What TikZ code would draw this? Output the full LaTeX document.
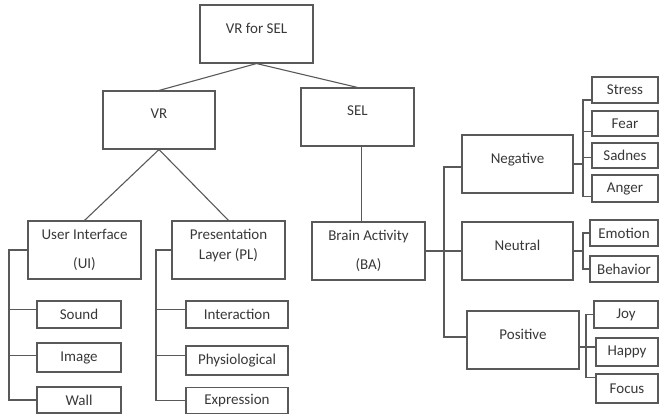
\documentclass[tikz,border=0pt]{standalone}
\usepackage{fontspec}
\setmainfont{Carlito}
\usepackage{tikz}
\usetikzlibrary{calc}

\begin{document}
\begin{tikzpicture}[x=1pt,y=-1pt,font=\fontsize{15}{18}\selectfont,
  every node/.style={align=center,text=black!78},
  box/.style={draw=black!65,line width=1.1pt,inner sep=0pt},
  bigbox/.style={box,minimum width=113,minimum height=58,text depth=12pt},
  twobox/.style={box,minimum width=113,minimum height=58},
  leaf/.style={box,minimum height=27},
  link/.style={draw=black!65,line width=1.1pt}]
  \useasboundingbox (0,0) rectangle (659,414);
  \node[bigbox] (top) at (256.5,34) {VR for SEL};
  \node[bigbox,minimum width=112] (vr) at (159,120) {VR};
  \node[bigbox] (sel) at (357.5,117) {SEL};
  \node[twobox] (ui) at (84.5,250) {User Interface\\[11pt](UI)};
  \node[twobox,text depth=12pt] (pl) at (228.5,250) {Presentation\\[2pt]Layer (PL)};
  \node[twobox] (ba) at (368.5,251) {Brain Activity\\[11pt](BA)};
  \node[bigbox,minimum width=111] (neg) at (517.5,164) {Negative};
  \node[bigbox,minimum width=111] (neu) at (517.5,251) {Neutral};
  \node[bigbox,minimum width=112] (pos) at (523,340) {Positive};
  \node[leaf,minimum width=84] (sound) at (79,314.5) {Sound};
  \node[leaf,minimum width=84,minimum height=29] (image) at (79,357.5) {Image};
  \node[leaf,minimum width=84,minimum height=26] (wall) at (79,400) {Wall};
  \node[leaf,minimum width=102] (interaction) at (237,314.5) {Interaction};
  \node[leaf,minimum width=102,minimum height=29] (physio) at (237,360.5) {Physiological};
  \node[leaf,minimum width=102,minimum height=26] (expression) at (237,400.5) {Expression};
  \node[leaf,minimum width=66,minimum height=26] (stress) at (625,90) {Stress};
  \node[leaf,minimum width=66,minimum height=25] (fear) at (625,123.5) {Fear};
  \node[leaf,minimum width=66,minimum height=25] (sadnes) at (625,155.5) {Sadnes};
  \node[leaf,minimum width=66] (anger) at (625,188.5) {Anger};
  \node[leaf,minimum width=68,minimum height=26] (emotion) at (624,233) {Emotion};
  \node[leaf,minimum width=68,minimum height=26] (behavior) at (624,269) {Behavior};
  \node[leaf,minimum width=64] (joy) at (626,314.5) {Joy};
  \node[leaf,minimum width=62,minimum height=28] (happy) at (627,352) {Happy};
  \node[leaf,minimum width=62,minimum height=29] (focus) at (627,388.5) {Focus};
  \coordinate (uirail) at (9,0);
  \coordinate (plrail) at (156,0);
  \coordinate (barail) at (444,0);
  \coordinate (negbr) at (583,0);
  \coordinate (neubr) at (583,0);
  \coordinate (posbr) at (586,0);
  \draw[link] (top.south) -- (vr.north);
  \draw[link] (top.south) -- (sel.north);
  \draw[link] (vr.south) -- (ui.north);
  \draw[link] (vr.south) -- (pl.north);
  \draw[link] ([xshift=4pt]sel.south) -- ([xshift=4pt]sel.south |- ba.north);
  \draw[link] (ui.west) -| (uirail |- wall.west) -- (wall.west);
  \draw[link] (pl.west) -| (plrail |- expression.west) -- (expression.west);
  \draw[link] (ba.east) -- (neu.west);
  \draw[link] ($(neg.west)+(0,3)$) -| ($(barail |- pos.west)+(0,-3)$) -- ($(pos.west)+(0,-3)$);
  \draw[link] (neg.east) -- (neg.east -| negbr);
  \draw[link] ($(stress.west)+(0,10)$) -| ($(negbr |- anger.west)+(0,8)$) -- ($(anger.west)+(0,8)$);
  \draw[link] (neu.east) -- (neu.east -| neubr);
  \draw[link] (emotion.west) -| (neubr |- behavior.west) -- (behavior.west);
  \draw[link] ($(pos.east)+(0,7)$) -- ($(posbr |- pos.east)+(0,7)$);
  \draw[link] (joy.west) -| ($(posbr |- focus.west)+(0,-11)$) -- ($(focus.west)+(0,-11)$);
  \foreach \r/\n/\d in {uirail/sound/-5,uirail/image/-2,plrail/interaction/-5,plrail/physio/-5,
      negbr/fear/8,negbr/sadnes/2,posbr/happy/-5}
    \draw[link] ($(\n.west)+(0,\d)$) -- ($(\r |- \n.west)+(0,\d)$);
\end{tikzpicture}
\end{document}
